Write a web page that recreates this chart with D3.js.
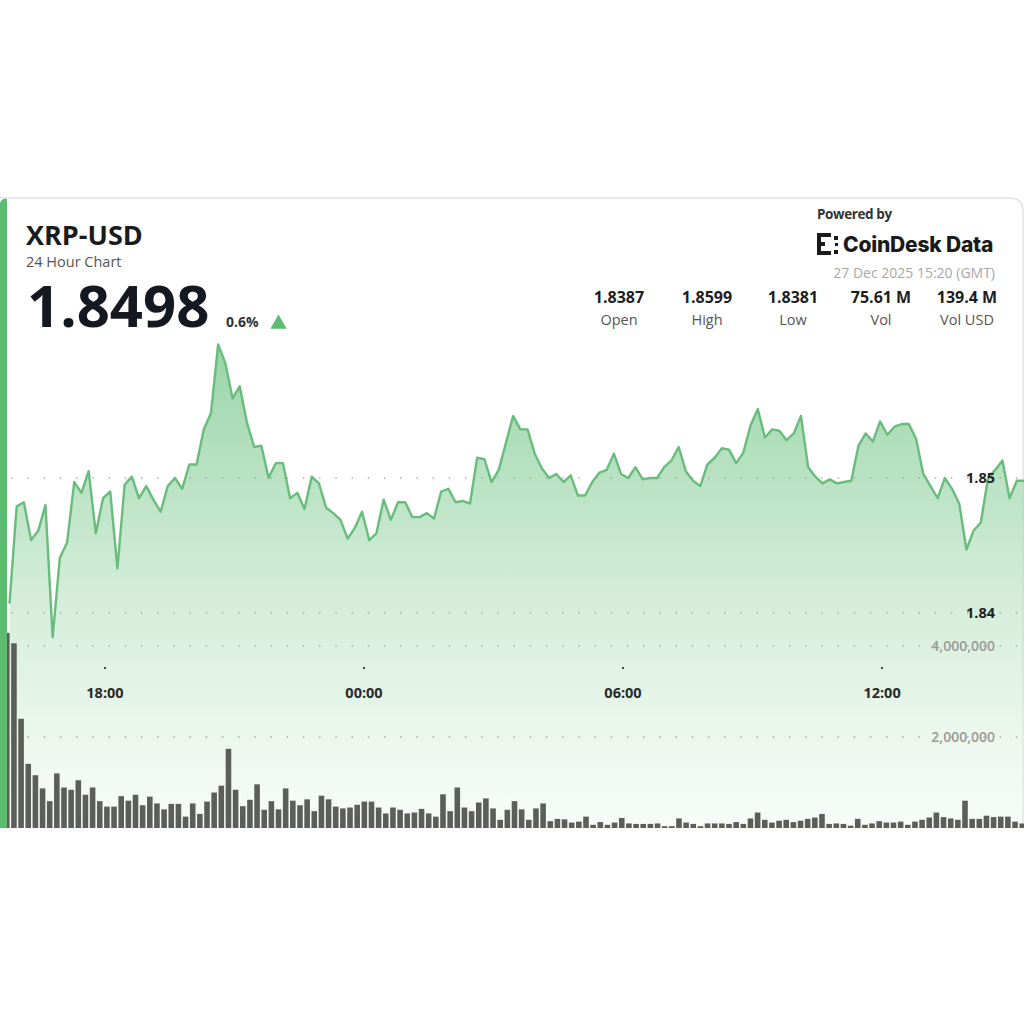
<!DOCTYPE html>
<html>
<head>
<meta charset="utf-8">
<script src="https://cdn.jsdelivr.net/npm/d3@7"></script>
<style>
  body { margin: 0; background: #fff; }
  svg { display: block; font-family: "Open Sans", "Noto Sans", sans-serif; }
</style>
</head>
<body>
<svg id="chart"></svg>
<script>
// 10 minute closes, 26 Dec 15:48 UTC -> 27 Dec 15:18 UTC
const priceValues = [
  1.8407, 1.8479, 1.8482, 1.8454, 1.8461, 1.8480, 1.8382, 1.8441, 1.8452, 1.8497,
  1.8489, 1.8505, 1.8459, 1.8485, 1.8490, 1.8433, 1.8495, 1.8501, 1.8485, 1.8494,
  1.8484, 1.8475, 1.8494, 1.8500, 1.8492, 1.8510, 1.8510, 1.8536, 1.8548, 1.8599,
  1.8585, 1.8559, 1.8568, 1.8541, 1.8523, 1.8524, 1.8500, 1.8511, 1.8511, 1.8485,
  1.8489, 1.8477, 1.8501, 1.8496, 1.8478, 1.8474, 1.8469, 1.8455, 1.8463, 1.8475,
  1.8454, 1.8459, 1.8484, 1.8469, 1.8482, 1.8482, 1.8471, 1.8471, 1.8474, 1.8470,
  1.8490, 1.8492, 1.8482, 1.8483, 1.8481, 1.8515, 1.8514, 1.8497, 1.8506, 1.8526,
  1.8546, 1.8536, 1.8536, 1.8518, 1.8507, 1.8500, 1.8503, 1.8497, 1.8502, 1.8487,
  1.8487, 1.8497, 1.8504, 1.8506, 1.8518, 1.8503, 1.8500, 1.8508, 1.8499, 1.8500,
  1.8500, 1.8508, 1.8513, 1.8523, 1.8505, 1.8498, 1.8494, 1.8510, 1.8515, 1.8522,
  1.8521, 1.8511, 1.8519, 1.8539, 1.8551, 1.8530, 1.8536, 1.8535, 1.8528, 1.8533,
  1.8546, 1.8508, 1.8501, 1.8496, 1.8499, 1.8496, 1.8497, 1.8498, 1.8524, 1.8533,
  1.8527, 1.8542, 1.8532, 1.8538, 1.8540, 1.8540, 1.8529, 1.8503, 1.8494, 1.8485,
  1.8500, 1.8492, 1.8481, 1.8447, 1.8461, 1.8467, 1.8500, 1.8506, 1.8513, 1.8485,
  1.8498, 1.8498
];

// volume per bar, millions of XRP
const volumeValues = [
  4.29, 4.06, 2.40, 1.41, 1.16, 0.87, 0.59, 1.20, 0.89, 0.84,
  1.05, 0.73, 0.89, 0.59, 0.47, 0.47, 0.70, 0.60, 0.73, 0.50,
  0.69, 0.54, 0.41, 0.53, 0.53, 0.25, 0.54, 0.31, 0.58, 0.78,
  0.93, 1.74, 0.84, 0.48, 0.62, 0.96, 0.40, 0.59, 0.41, 0.87,
  0.60, 0.50, 0.63, 0.37, 0.71, 0.63, 0.47, 0.43, 0.45, 0.51,
  0.58, 0.58, 0.45, 0.32, 0.45, 0.40, 0.32, 0.34, 0.42, 0.32,
  0.25, 0.74, 0.37, 0.89, 0.45, 0.37, 0.56, 0.65, 0.43, 0.18,
  0.40, 0.59, 0.41, 0.18, 0.43, 0.54, 0.15, 0.20, 0.19, 0.12,
  0.14, 0.25, 0.07, 0.13, 0.07, 0.12, 0.22, 0.10, 0.09, 0.09,
  0.09, 0.10, 0.04, 0.04, 0.21, 0.12, 0.09, 0.04, 0.10, 0.10,
  0.10, 0.09, 0.13, 0.09, 0.21, 0.34, 0.18, 0.12, 0.16, 0.18,
  0.13, 0.16, 0.20, 0.23, 0.31, 0.09, 0.10, 0.09, 0.05, 0.20,
  0.07, 0.10, 0.15, 0.12, 0.12, 0.14, 0.07, 0.14, 0.18, 0.23,
  0.34, 0.24, 0.21, 0.18, 0.60, 0.20, 0.20, 0.27, 0.24, 0.25,
  0.25, 0.14, 0.10
];

const priceTicks = [1.84, 1.85];
const volumeTicks = [2000000, 4000000];
const statValues = ["1.8387", "1.8599", "1.8381", "75.61 M", "139.4 M"];
const statLabels = ["Open", "High", "Low", "Vol", "Vol USD"];

const startTime = Date.UTC(2025, 11, 26, 15, 48);
const stepMinutes = 10;

const W = 1024, H = 1024;
const svg = d3.select("#chart").attr("width", W).attr("height", H);

const times = priceValues.map((d, i) => new Date(startTime + i * stepMinutes * 60000));
const priceData = priceValues.map((v, i) => ({ t: times[i], v: v }));

// scales
const x = d3.scaleUtc()
  .domain(d3.extent(times))
  .range([9.5, 1024]);
const yPrice = d3.scaleLinear().domain([1.84, 1.85]).range([613, 478]);
const yVol = d3.scaleLinear().domain([0, 4000000]).range([828, 646]);
const xBar = d3.scaleBand()
  .domain(d3.range(volumeValues.length))
  .range([4, 1025])
  .paddingInner(0.22);

// card
svg.append("rect").attr("width", W).attr("height", H).attr("fill", "#fff");
svg.append("path")
  .attr("d", "M-5,198 H1010 Q1023,198 1023,211 V828")
  .attr("fill", "none")
  .attr("stroke", "#e4e4e4")
  .attr("stroke-width", 1.5);

const defs = svg.append("defs");
const grad = defs.append("linearGradient")
  .attr("id", "areaFill")
  .attr("gradientUnits", "userSpaceOnUse")
  .attr("x1", 0).attr("x2", 0).attr("y1", 340).attr("y2", 828);
grad.append("stop").attr("offset", "0%").attr("stop-color", "#84cc96").attr("stop-opacity", 0.85);
grad.append("stop").attr("offset", "35%").attr("stop-color", "#a6dab2").attr("stop-opacity", 0.7);
grad.append("stop").attr("offset", "75%").attr("stop-color", "#cdebd3").attr("stop-opacity", 0.5);
grad.append("stop").attr("offset", "100%").attr("stop-color", "#e6f4e8").attr("stop-opacity", 0.3);

const chart = svg.append("g");

// price area
const area = d3.area()
  .x(d => x(d.t))
  .y0(828)
  .y1(d => yPrice(d.v));
chart.append("path")
  .datum(priceData)
  .attr("d", area)
  .attr("fill", "url(#areaFill)");

// dotted grid lines
const gridStyle = sel => sel
  .attr("x1", 12).attr("x2", 1024)
  .attr("stroke", "#9c9c9c")
  .attr("stroke-width", 1.6)
  .attr("stroke-linecap", "round")
  .attr("stroke-dasharray", "0.1 16.1");

chart.selectAll(".pgrid").data(priceTicks).join("line")
  .attr("class", "pgrid")
  .call(gridStyle)
  .attr("y1", d => yPrice(d)).attr("y2", d => yPrice(d));

chart.selectAll(".vgrid").data(volumeTicks).join("line")
  .attr("class", "vgrid")
  .call(gridStyle)
  .attr("y1", d => yVol(d)).attr("y2", d => yVol(d));

// volume bars
chart.selectAll(".vol").data(volumeValues).join("rect")
  .attr("class", "vol")
  .attr("x", (d, i) => xBar(i))
  .attr("width", xBar.bandwidth())
  .attr("y", d => yVol(d * 1e6))
  .attr("height", d => 828 - yVol(d * 1e6))
  .attr("fill", "#5b5e59");

// price line
const line = d3.line().x(d => x(d.t)).y(d => yPrice(d.v));
chart.append("path")
  .datum(priceData)
  .attr("d", line)
  .attr("fill", "none")
  .attr("stroke", "#68bd7c")
  .attr("stroke-width", 2.4)
  .attr("stroke-linejoin", "round");

// axis labels
chart.selectAll(".plabel").data(priceTicks).join("text")
  .attr("class", "plabel")
  .attr("x", 995)
  .attr("y", d => yPrice(d))
  .attr("dy", "0.36em")
  .attr("text-anchor", "end")
  .attr("font-size", 14.5)
  .attr("font-weight", 700)
  .attr("fill", "#222")
  .text(d => d3.format(".2f")(d));

chart.selectAll(".vlabel").data(volumeTicks).join("text")
  .attr("class", "vlabel")
  .attr("x", 995)
  .attr("y", d => yVol(d))
  .attr("dy", "0.36em")
  .attr("text-anchor", "end")
  .attr("font-size", 14)
  .attr("font-weight", 600)
  .attr("fill", "#9a9a9a")
  .text(d => d3.format(",")(d));

// time axis
const xAxis = d3.axisBottom(x)
  .ticks(d3.utcHour.every(6))
  .tickFormat(d3.utcFormat("%H:%M"))
  .tickSize(2)
  .tickPadding(0);
const gx = chart.append("g").attr("transform", "translate(0,667)").call(xAxis);
gx.select(".domain").remove();
gx.selectAll(".tick line").attr("stroke", "#444").attr("stroke-width", 2);
gx.selectAll(".tick text")
  .attr("y", 31)
  .attr("dy", 0)
  .attr("font-family", "'Open Sans', sans-serif")
  .attr("font-size", 14.5)
  .attr("font-weight", 700)
  .attr("fill", "#2a2a2a");

// left accent strip
svg.append("path")
  .attr("d", "M0,203 Q2,198 7,199 V828 H0 Z")
  .attr("fill", "#5cbc6f");

// header left
svg.append("text").attr("x", 26).attr("y", 245)
  .attr("font-size", 27).attr("font-weight", 700).attr("fill", "#1b1b1b")
  .text("XRP-USD");
svg.append("text").attr("x", 26).attr("y", 267)
  .attr("font-size", 14.5).attr("fill", "#555")
  .text("24 Hour Chart");
svg.append("text").attr("x", 27).attr("y", 327)
  .attr("font-size", 58).attr("font-weight", 700).attr("fill", "#141821")
  .text("1.8498");
svg.append("text").attr("x", 226).attr("y", 327)
  .attr("font-size", 14).attr("font-weight", 700).attr("fill", "#333")
  .text("0.6%");
svg.append("path")
  .attr("d", d3.symbol(d3.symbolTriangle, 115)())
  .attr("transform", "translate(278.5,324)")
  .attr("fill", "#5cbc6f");

// header right
svg.append("text").attr("x", 817).attr("y", 219)
  .attr("font-size", 13.5).attr("font-weight", 700).attr("fill", "#333")
  .attr("letter-spacing", -0.4)
  .text("Powered by");

const logo = svg.append("g").attr("fill", "#1a1a1a");
[[817, 233, 14, 4], [817, 251, 14, 4], [817, 233, 4, 22], [821, 242, 4, 4],
 [834, 236, 4, 4], [834, 250, 4, 4], [835, 243, 3, 3]].forEach(r => {
  logo.append("rect").attr("x", r[0]).attr("y", r[1]).attr("width", r[2]).attr("height", r[3]);
});
svg.append("text").attr("x", 843).attr("y", 252)
  .attr("font-family", "Inter, 'Open Sans', sans-serif")
  .attr("font-size", 21).attr("font-weight", 800).attr("fill", "#1a1a1a")
  .attr("letter-spacing", -0.2)
  .text("CoinDesk Data");
svg.append("text").attr("x", 995).attr("y", 278)
  .attr("text-anchor", "end")
  .attr("font-size", 14).attr("fill", "#a8a8a8")
  .text("27 Dec 2025 15:20 (GMT)");

const statX = [619, 707, 793, 881, 967];
svg.selectAll(".sval").data(statValues).join("text")
  .attr("class", "sval")
  .attr("x", (d, i) => statX[i]).attr("y", 303)
  .attr("text-anchor", "middle")
  .attr("font-size", 16).attr("font-weight", 700).attr("fill", "#1e1e1e")
  .text(d => d);
svg.selectAll(".slab").data(statLabels).join("text")
  .attr("class", "slab")
  .attr("x", (d, i) => statX[i]).attr("y", 325)
  .attr("text-anchor", "middle")
  .attr("font-size", 14.5).attr("fill", "#555")
  .text(d => d);
</script>
</body>
</html>
